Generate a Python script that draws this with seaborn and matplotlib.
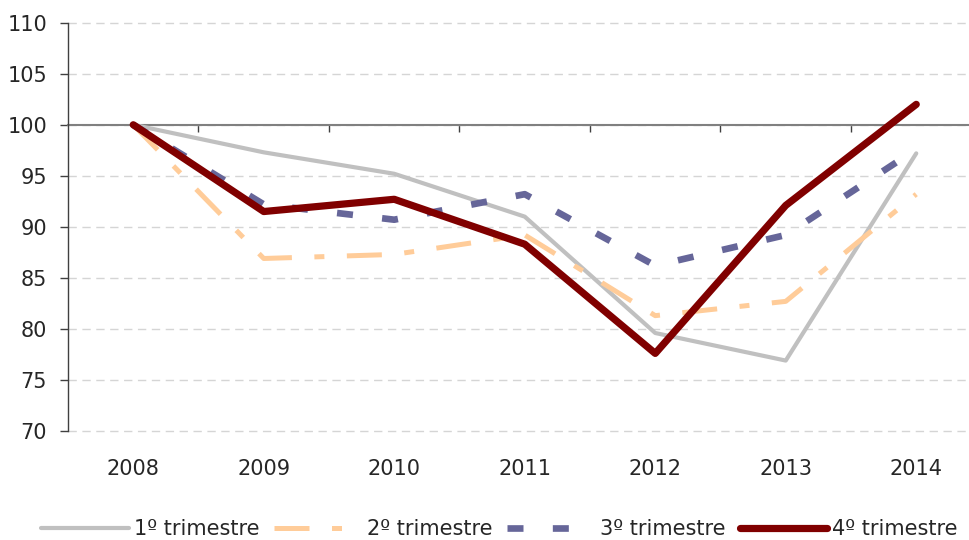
import matplotlib
matplotlib.use("Agg")
import matplotlib.pyplot as plt
import seaborn as sns
import pandas as pd
from matplotlib.ticker import FixedLocator

# data
years = ["2008", "2009", "2010", "2011", "2012", "2013", "2014"]
t1 = [100, 97.3, 95.2, 91.0, 79.6, 76.9, 97.2]
t2 = [100, 86.9, 87.3, 89.2, 81.3, 82.7, 93.2]
t3 = [100, 92.2, 90.7, 93.2, 86.2, 89.2, 97.6]
t4 = [100, 91.5, 92.7, 88.3, 77.6, 92.1, 102.0]
labels = ["1º trimestre", "2º trimestre", "3º trimestre", "4º trimestre"]

sns.set_style("white")
plt.rcParams["font.family"] = ["DejaVu Sans"]
FS = 15

fig = plt.figure(figsize=(9.7, 5.4), dpi=100)
ax = fig.add_axes([68 / 970, 109 / 540, 913.5 / 970, 408.3 / 540])

df = pd.DataFrame({"pos": range(len(years)), "t1": t1, "t2": t2, "t3": t3, "t4": t4})

styles = [
    ("t1", "#C0C0C0", 3.0, None),
    ("t2", "#FFCC99", 3.6, (7.0, 4.5, 2.0, 4.5)),
    ("t3", "#666699", 4.8, (2.4, 4.4)),
    ("t4", "#800000", 5.2, None),
]
for (col, color, lw, dashes), lab in zip(styles, labels):
    sns.lineplot(data=df, x="pos", y=col, ax=ax, color=color, linewidth=lw,
                 label=lab, zorder=3)
    line = ax.lines[-1]
    if dashes:
        line.set_dashes(dashes)
        line.set_dash_capstyle("butt")
    else:
        line.set_solid_capstyle("round")
        line.set_solid_joinstyle("round")

ax.set_xlim(-0.5, 6.5)
ax.set_ylim(70, 110)
ax.set_yticks(range(70, 111, 5))
ax.tick_params(axis="y", length=6, width=1, color="#404040", pad=9, labelsize=FS, direction="out", left=True)
ax.yaxis.grid(True, linestyle=(0, (6, 4)), color="#D5D5D5", linewidth=1)
ax.xaxis.grid(False)
ax.set_axisbelow(True)
for gl in ax.get_ygridlines():
    gl.set_clip_on(False)
ax.set_xlabel("")
ax.set_ylabel("")

for s in ["top", "right"]:
    ax.spines[s].set_visible(False)
ax.spines["left"].set_color("#404040")
ax.spines["left"].set_linewidth(1)
ax.spines["bottom"].set_position(("data", 100))
ax.spines["bottom"].set_color("#808080")
ax.spines["bottom"].set_linewidth(1.5)
ax.spines["bottom"].set_zorder(2)

ax.set_xticks([])
ax.xaxis.set_minor_locator(FixedLocator([0.5, 1.5, 2.5, 3.5, 4.5, 5.5]))
ax.tick_params(axis="x", which="minor", length=5, width=1, color="#404040", direction="out", bottom=True)

secax = ax.secondary_xaxis(0)
secax.set_xticks(range(len(years)), labels=years)
secax.tick_params(length=0, pad=20, labelsize=FS)
secax.spines["bottom"].set_visible(False)

ax.legend(loc="center", bbox_to_anchor=(0.515, 0.02), bbox_transform=fig.transFigure,
          ncol=4, frameon=False, fontsize=FS, handlelength=4.2, handletextpad=0.25,
          columnspacing=0.7, borderaxespad=0)

fig.savefig("out.png", dpi=100)
